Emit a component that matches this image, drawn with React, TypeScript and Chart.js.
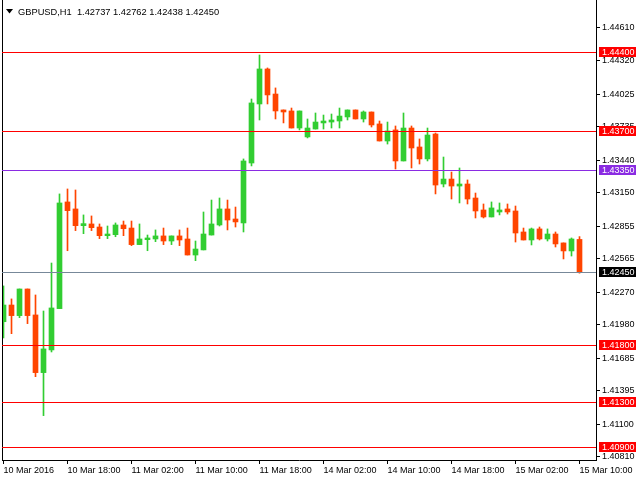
import React, { useEffect, useRef } from "react";
import { Chart, registerables } from "chart.js";

Chart.register(...registerables);

const symbolTitle = "GBPUSD,H1";
const titleValues = ["1.42737", "1.42762", "1.42438", "1.42450"];

const timeLabels = [
  "10 Mar 2016", "10 Mar 18:00", "11 Mar 02:00", "11 Mar 10:00", "11 Mar 18:00",
  "14 Mar 02:00", "14 Mar 10:00", "14 Mar 18:00", "15 Mar 02:00", "15 Mar 10:00",
];
const barsPerLabel = 8;

const opens = [
  1.42008, 1.42156, 1.42062, 1.42298, 1.42068, 1.41557, 1.41758, 1.42124, 1.43069, 1.43007,
  1.42859, 1.42874, 1.42847, 1.42770, 1.42779, 1.42865, 1.42838, 1.42691, 1.42735, 1.42741,
  1.42768, 1.42723, 1.42768, 1.42741, 1.42599, 1.42644, 1.42776, 1.42865, 1.43007, 1.42918,
  1.42883, 1.43414, 1.43937, 1.44247, 1.44025, 1.43884, 1.43875, 1.43724, 1.43645, 1.43715,
  1.43769, 1.43777, 1.43786, 1.43822, 1.43884, 1.43804, 1.43866, 1.43760, 1.43609, 1.43707,
  1.43432, 1.43724, 1.43556, 1.43450, 1.43671, 1.43228, 1.43272, 1.43210, 1.43228, 1.43104,
  1.42998, 1.42936, 1.42980, 1.43007, 1.42989, 1.42803, 1.42732, 1.42830, 1.42741, 1.42785,
  1.42706, 1.42635, 1.42737,
];
const highs = [
  1.42325, 1.42210, 1.42298, 1.42298, 1.42245, 1.42103, 1.42528, 1.43140, 1.43184, 1.43175,
  1.42954, 1.42945, 1.42874, 1.42856, 1.42883, 1.42900, 1.42900, 1.42874, 1.42776, 1.42821,
  1.42838, 1.42768, 1.42821, 1.42838, 1.42723, 1.42980, 1.43086, 1.43104, 1.43086, 1.43024,
  1.43450, 1.43981, 1.44371, 1.44256, 1.44079, 1.43884, 1.43901, 1.43875, 1.43804, 1.43857,
  1.43839, 1.43848, 1.43901, 1.43884, 1.43884, 1.43875, 1.43866, 1.43786, 1.43777, 1.43742,
  1.43857, 1.43742, 1.43627, 1.43724, 1.43680, 1.43467, 1.43334, 1.43370, 1.43264, 1.43148,
  1.43051, 1.43069, 1.43060, 1.43051, 1.43033, 1.42838, 1.42838, 1.42847, 1.42830, 1.42803,
  1.42706, 1.42750, 1.42762,
];
const lows = [
  1.41864, 1.41902, 1.42044, 1.41991, 1.41521, 1.41176, 1.41740, 1.42124, 1.42637, 1.42815,
  1.42788, 1.42815, 1.42744, 1.42744, 1.42761, 1.42770, 1.42682, 1.42691, 1.42637, 1.42717,
  1.42691, 1.42691, 1.42682, 1.42599, 1.42549, 1.42644, 1.42776, 1.42856, 1.42821, 1.42847,
  1.42803, 1.43388, 1.43795, 1.43937, 1.43804, 1.43769, 1.43724, 1.43707, 1.43636, 1.43715,
  1.43715, 1.43724, 1.43724, 1.43795, 1.43804, 1.43777, 1.43733, 1.43609, 1.43582, 1.43361,
  1.43432, 1.43370, 1.43405, 1.43432, 1.43140, 1.43202, 1.43095, 1.43060, 1.43051, 1.42927,
  1.42927, 1.42936, 1.42954, 1.42962, 1.42714, 1.42732, 1.42688, 1.42732, 1.42723, 1.42670,
  1.42564, 1.42590, 1.42438,
];
const closes = [
  1.42156, 1.42062, 1.42298, 1.42062, 1.41557, 1.41767, 1.42130, 1.43060, 1.42992, 1.42859,
  1.42877, 1.42841, 1.42770, 1.42785, 1.42865, 1.42832, 1.42691, 1.42741, 1.42750, 1.42768,
  1.42723, 1.42768, 1.42732, 1.42599, 1.42652, 1.42785, 1.42874, 1.43007, 1.42909, 1.42892,
  1.43432, 1.43946, 1.44247, 1.44017, 1.43875, 1.43866, 1.43724, 1.43875, 1.43724, 1.43777,
  1.43786, 1.43795, 1.43830, 1.43884, 1.43804, 1.43866, 1.43751, 1.43609, 1.43698, 1.43432,
  1.43724, 1.43547, 1.43450, 1.43662, 1.43219, 1.43272, 1.43210, 1.43228, 1.43095, 1.42989,
  1.42936, 1.43016, 1.42998, 1.42980, 1.42794, 1.42732, 1.42830, 1.42741, 1.42785, 1.42697,
  1.42635, 1.42741, 1.42450,
];

const priceTicks = [
  1.4461, 1.4432, 1.44025, 1.43735, 1.4344, 1.4315, 1.42855, 1.42565, 1.4227, 1.4198,
  1.41685, 1.41395, 1.411, 1.4081,
];
const priceMin = 1.40783;
const priceMax = 1.44858;

const redLevels = [1.444, 1.437, 1.418, 1.413, 1.409];
const purpleLevels = [1.4335];
const bidLevels = [1.4245];

const UP = "#32CD32";
const DOWN = "#FF4500";
const FONT = "'Liberation Sans', Arial, sans-serif";

const overlayPlugin = {
  id: "overlay",
  afterDatasetsDraw(chart: any) {
    const { ctx, chartArea: a, scales } = chart;
    const y = scales.y;
    ctx.save();
    ctx.lineWidth = 1;
    ctx.strokeStyle = "#000";
    ctx.beginPath();
    ctx.moveTo(Math.floor(a.left) + 0.5, a.top);
    ctx.lineTo(Math.floor(a.left) + 0.5, a.bottom);
    ctx.stroke();
    const line = (v: number, color: string) => {
      const py = Math.round(y.getPixelForValue(v)) + 0.5;
      ctx.strokeStyle = color;
      ctx.beginPath();
      ctx.moveTo(a.left, py);
      ctx.lineTo(a.right, py);
      ctx.stroke();
    };
    redLevels.forEach((v) => line(v, "#FF0000"));
    purpleLevels.forEach((v) => line(v, "#8A2BE2"));
    bidLevels.forEach((v) => line(v, "#778899"));
    ctx.restore();
  },
  afterDraw(chart: any) {
    const { ctx, chartArea: a, scales } = chart;
    const y = scales.y;
    ctx.save();
    ctx.font = `9px ${FONT}`;
    ctx.textBaseline = "middle";
    ctx.textAlign = "left";
    const label = (v: number, bg: string) => {
      const py = Math.round(y.getPixelForValue(v));
      ctx.fillStyle = bg;
      ctx.fillRect(a.right + 3, py - 5, 37, 10);
      ctx.fillStyle = "#FFFFFF";
      ctx.fillText(v.toFixed(5), a.right + 6, py + 0.5);
    };
    redLevels.forEach((v) => label(v, "#FF0000"));
    purpleLevels.forEach((v) => label(v, "#8A2BE2"));
    bidLevels.forEach((v) => label(v, "#000000"));

    // title
    ctx.fillStyle = "#000";
    ctx.beginPath();
    ctx.moveTo(6, 9);
    ctx.lineTo(13, 9);
    ctx.lineTo(9.5, 13.5);
    ctx.closePath();
    ctx.fill();
    ctx.font = `9.3px ${FONT}`;
    ctx.textBaseline = "alphabetic";
    ctx.fillText(symbolTitle + "  " + titleValues.join(" "), 18, 15);
    ctx.restore();
  },
};

export default function App() {
  const ref = useRef<HTMLCanvasElement | null>(null);
  useEffect(() => {
    if (!ref.current) return;
    const idx = opens.map((_, i) => i);
    const colors = idx.map((i) => (closes[i] >= opens[i] ? UP : DOWN));
    const chart = new Chart(ref.current, {
      type: "bar",
      data: {
        datasets: [
          {
            data: idx.map((i) => ({ x: i, y: [lows[i], highs[i]] })) as any,
            backgroundColor: colors,
            barThickness: 1,
            grouped: false,
            borderWidth: 0,
            minBarLength: 1,
          },
          {
            data: idx.map((i) => ({ x: i, y: [opens[i], closes[i]] })) as any,
            backgroundColor: colors,
            barThickness: 5,
            grouped: false,
            borderWidth: 0,
            minBarLength: 1,
          },
        ],
      },
      options: {
        responsive: false,
        devicePixelRatio: 1,
        animation: false,
        layout: { padding: { left: 2, right: 0, top: 0, bottom: 0 } },
        plugins: { legend: { display: false }, tooltip: { enabled: false } },
        scales: {
          x: {
            type: "linear",
            position: "bottom",
            offset: false,
            min: -0.1875,
            max: 74.0625,
            afterBuildTicks: (s: any) => {
              s.ticks = timeLabels.map((_, k) => ({ value: k * barsPerLabel }));
            },
            afterFit: (s: any) => {
              s.height = 20;
              s.paddingLeft = 0;
              s.paddingRight = 0;
            },
            ticks: {
              autoSkip: false,
              maxRotation: 0,
              minRotation: 0,
              align: "start",
              padding: 1,
              color: "#000",
              font: { family: FONT, size: 9 },
              callback: (_v: any, i: number) => timeLabels[i],
            },
            grid: { offset: false, drawOnChartArea: false, drawTicks: true, tickLength: 4, color: "#000" },
            border: { display: true, color: "#000", width: 1 },
          },
          y: {
            type: "linear",
            position: "right",
            min: priceMin,
            max: priceMax,
            afterBuildTicks: (s: any) => {
              s.ticks = priceTicks.map((v) => ({ value: v }));
            },
            afterFit: (s: any) => {
              s.width = 44;
              s.paddingTop = 0;
              s.paddingBottom = 0;
            },
            ticks: {
              padding: 2,
              color: "#000",
              font: { family: FONT, size: 9 },
              callback: (v: any) => Number(v).toFixed(5),
            },
            grid: { drawOnChartArea: false, drawTicks: true, tickLength: 4, color: "#000" },
            border: { display: true, color: "#000", width: 1 },
          },
        },
      },
      plugins: [overlayPlugin],
    } as any);
    return () => chart.destroy();
  }, []);
  return (
    <div style={{ position: "fixed", left: 0, top: 0, width: 640, height: 480, background: "#fff" }}>
      <canvas ref={ref} width={640} height={480} style={{ display: "block" }} />
    </div>
  );
}
